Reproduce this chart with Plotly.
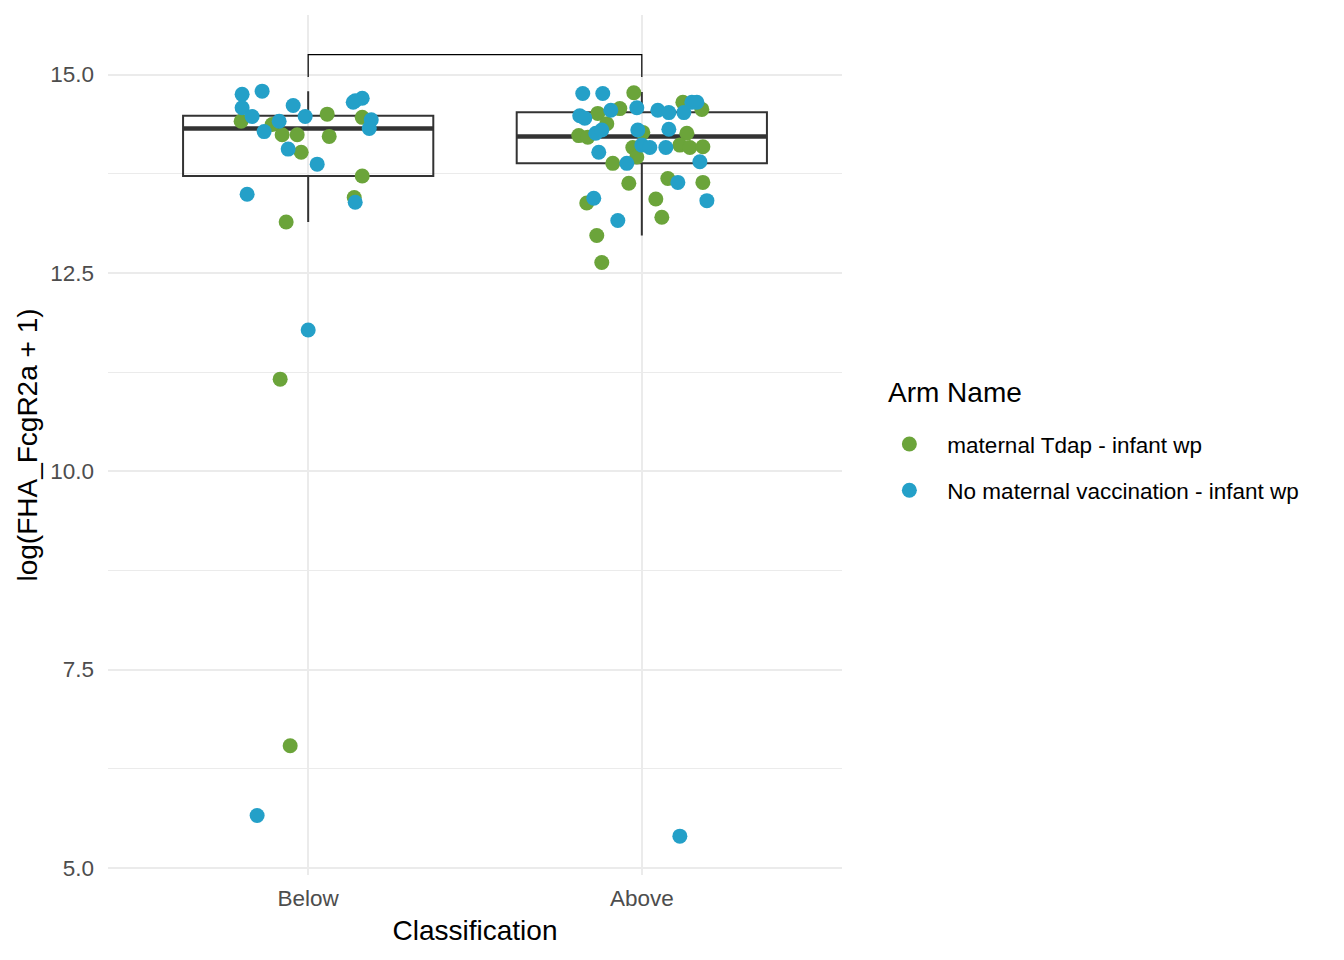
import plotly.graph_objects as go

# categories on the x axis
categories = ["Below", "Above"]

# box summary
box_q1 = [13.72, 13.88]
box_median = [14.32, 14.22]
box_q3 = [14.48, 14.525]
box_lower = [13.14, 12.97]
box_upper = [14.79, 14.78]

# significance bracket between the two groups
bracket_top = 15.25
bracket_tip = 14.97

# maternal Tdap - infant wp
tdap_below_y = [14.41, 14.37, 14.24, 14.24, 14.02, 14.50, 14.22, 14.46,
                13.72, 13.45, 13.14, 11.16, 6.54]
tdap_below_jit = [-0.201, -0.108, -0.078, -0.033, -0.021, 0.057, 0.063, 0.162,
                  0.162, 0.138, -0.066, -0.084, -0.054]
tdap_above_y = [14.77, 14.57, 14.51, 14.38, 14.65, 14.56, 14.23, 14.21,
                14.27, 14.26, 14.11, 14.08, 14.09, 13.88, 14.08, 13.96,
                13.63, 13.38, 12.97, 12.63, 13.69, 13.64, 13.43, 13.20]
tdap_above_jit = [-0.024, -0.066, -0.132, -0.105, 0.123, 0.180, -0.189, -0.162,
                  0.003, 0.135, 0.114, 0.144, 0.183, -0.087, -0.027, -0.015,
                  -0.039, -0.165, -0.135, -0.120, 0.078, 0.183, 0.042, 0.060]

# No maternal vaccination - infant wp
novac_below_y = [14.75, 14.79, 14.58, 14.47, 14.28, 14.41, 14.61, 14.47,
                 14.06, 13.87, 14.67, 14.70, 14.65, 14.43, 14.32, 13.49,
                 13.39, 11.78, 5.66]
novac_below_jit = [-0.198, -0.138, -0.198, -0.168, -0.132, -0.087, -0.045, -0.009,
                   -0.060, 0.027, 0.141, 0.162, 0.135, 0.189, 0.183, -0.183,
                   0.141, 0.000, -0.153]
novac_above_y = [14.76, 14.76, 14.48, 14.45, 14.55, 14.58, 14.55, 14.52,
                 14.52, 14.65, 14.65, 14.26, 14.30, 14.30, 14.31, 14.02,
                 13.88, 14.11, 14.08, 14.08, 13.90, 13.44, 13.16, 13.64,
                 13.41, 5.40]
novac_above_jit = [-0.177, -0.117, -0.186, -0.171, -0.093, -0.015, 0.048, 0.081,
                   0.126, 0.150, 0.165, -0.138, -0.120, -0.012, 0.081, -0.129,
                   -0.045, 0.000, 0.024, 0.072, 0.174, -0.144, -0.072, 0.108,
                   0.195, 0.114]

arm_names = ["maternal Tdap - infant wp", "No maternal vaccination - infant wp"]
arm_colors = ["#6BA43A", "#24A0C8"]

FONT = "Liberation Sans"
BOX_W = 0.75
xpos = list(range(len(categories)))

fig = go.Figure()

# boxes (outliers hidden, as in the original)
fig.add_trace(go.Box(
    x=xpos, q1=box_q1, median=box_median, q3=box_q3,
    lowerfence=box_lower, upperfence=box_upper,
    width=BOX_W, whiskerwidth=0, boxpoints=False, fillcolor="rgba(0,0,0,0)",
    line=dict(color="#333333", width=2), showlegend=False, hoverinfo="skip"
))

# thicker median bars
med_x, med_y = [], []
for i, m in zip(xpos, box_median):
    med_x += [i - BOX_W / 2, i + BOX_W / 2, None]
    med_y += [m, m, None]
fig.add_trace(go.Scatter(x=med_x, y=med_y, mode="lines",
                         line=dict(color="#333333", width=4.5),
                         showlegend=False, hoverinfo="skip"))

groups = [
    (tdap_below_y, tdap_below_jit, tdap_above_y, tdap_above_jit),
    (novac_below_y, novac_below_jit, novac_above_y, novac_above_jit),
]
for k, (by, bj, ay, aj) in enumerate(groups):
    xs = [0 + j for j in bj] + [1 + j for j in aj]
    fig.add_trace(go.Scatter(
        x=xs, y=by + ay, mode="markers", name=arm_names[k],
        legendgroup=arm_names[k],
        marker=dict(color=arm_colors[k], size=15, line=dict(width=0)),
    ))

# bracket
fig.add_shape(type="path", xref="x", yref="y",
              path=f"M {xpos[0]},{bracket_tip} L {xpos[0]},{bracket_top} "
                   f"L {xpos[1]},{bracket_top} L {xpos[1]},{bracket_tip}",
              line=dict(color="black", width=1.2))

# legend title as a separate label so the gap below it matches
fig.add_annotation(text="Arm Name", xref="paper", yref="paper",
                   x=1.060, y=0.5605, xanchor="left", yanchor="middle",
                   showarrow=False, font=dict(size=28, color="black"))

fig.update_layout(
    width=1344, height=960,
    margin=dict(l=100, r=510, t=7, b=93),
    plot_bgcolor="white", paper_bgcolor="white",
    font=dict(family=FONT, color="black"),
    legend=dict(
        font=dict(size=22.5, color="black"),
        x=1.040, xanchor="left", y=0.474, yanchor="middle",
        tracegroupgap=14, itemwidth=66,
    ),
    xaxis=dict(
        range=[-0.6, 1.6], tickvals=xpos, ticktext=categories,
        showgrid=True, gridcolor="#EBEBEB", gridwidth=2, zeroline=False,
        tickfont=dict(size=22.5, color="#4D4D4D"), ticks="", ticklabelstandoff=7,
        title=dict(text="Classification", font=dict(size=28), standoff=10),
    ),
    yaxis=dict(
        range=[4.91, 15.75], dtick=2.5, tick0=5, tickformat=".1f",
        showgrid=True, gridcolor="#EBEBEB", gridwidth=2, zeroline=False,
        minor=dict(dtick=1.25, tick0=5, showgrid=True, gridcolor="#EBEBEB", gridwidth=1),
        tickfont=dict(size=22.5, color="#4D4D4D"), ticks="", ticklabelstandoff=13,
        title=dict(text="log(FHA_FcgR2a + 1)", font=dict(size=28), standoff=4),
    ),
)

fig.write_html("out.html")
